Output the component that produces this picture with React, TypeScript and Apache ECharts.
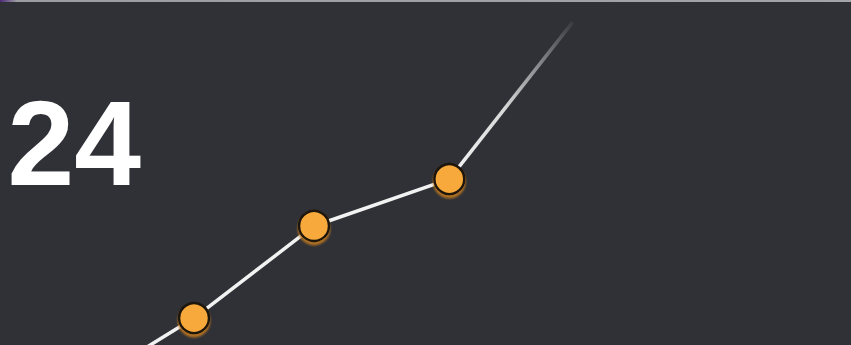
import React, { useEffect, useRef } from "react";
import * as echarts from "echarts";

// Points (x and y on 0..100 scales)
const xValues = [8.7, 22.8, 36.9, 52.8];
const yValues = [-13.6, 7.8, 34.5, 48.1];
const tailX = [52.8, 67.3];
const tailY = [48.1, 93.6];
const yearLabel = "\u201924";

export default function App() {
  const ref = useRef<HTMLDivElement>(null);
  useEffect(() => {
    if (!ref.current) return;
    const chart = echarts.init(ref.current, undefined, { renderer: "svg" });
    const mainData = xValues.map((x, i) => ({
      value: [x, yValues[i]],
      symbol: i === 0 ? "none" : "circle",
    }));
    const tailData = tailX.map((x, i) => [x, tailY[i]]);
    chart.setOption({
      animation: false,
      backgroundColor: "#303137",
      grid: { left: 0, right: 0, top: 0, bottom: 0 },
      xAxis: { type: "value", min: 0, max: 100, show: false },
      yAxis: { type: "value", min: 0, max: 100, show: false },
      graphic: [
        {
          type: "rect",
          shape: { x: 0, y: 0, width: 851, height: 2 },
          style: {
            fill: new echarts.graphic.LinearGradient(0, 0, 1, 0, [
              { offset: 0, color: "#4b2a7a" },
              { offset: 0.02, color: "#9c9ca3" },
              { offset: 1, color: "#a3a3a8" },
            ]),
          },
          z: 10,
        },
        {
          type: "text",
          x: 141,
          y: 143,
          style: {
            text: yearLabel,
            font: 'bold 120px "Liberation Sans", Arial, sans-serif',
            fill: "#ffffff",
            textAlign: "right",
            textVerticalAlign: "middle",
          },
          z: 5,
        },
      ],
      series: [
        {
          type: "line",
          data: tailData,
          symbol: "none",
          clip: true,
          z: 2,
          lineStyle: {
            width: 3.5,
            color: new echarts.graphic.LinearGradient(0, 1, 1, 0, [
              { offset: 0, color: "rgba(245,245,245,1)" },
              { offset: 0.45, color: "rgba(245,245,245,0.85)" },
              { offset: 1, color: "rgba(245,245,245,0.05)" },
            ]),
          },
        },
        {
          type: "line",
          data: mainData,
          clip: true,
          z: 3,
          symbolSize: 30,
          lineStyle: { width: 3.5, color: "#f2f2f2" },
          itemStyle: {
            color: "#f8a93a",
            borderColor: "#1c150c",
            borderWidth: 2.5,
            shadowColor: "rgba(190,120,30,0.9)",
            shadowOffsetY: 3,
            shadowBlur: 2,
          },
        },
      ],
    });
    return () => chart.dispose();
  }, []);
  return (
    <div
      ref={ref}
      style={{ position: "fixed", left: 0, top: 0, width: 851, height: 345 }}
    />
  );
}
